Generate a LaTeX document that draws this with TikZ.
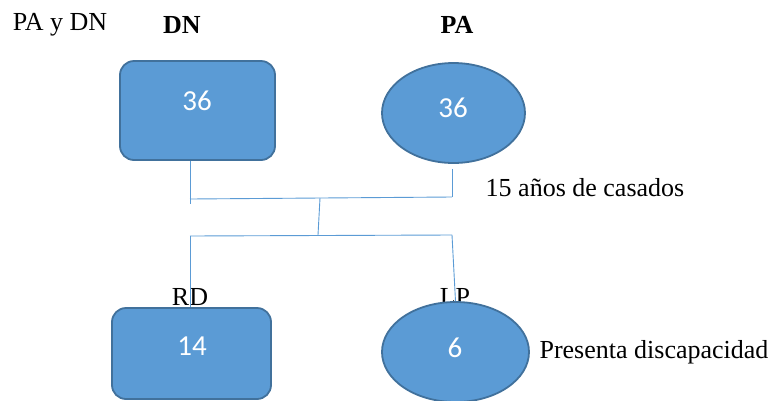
\documentclass[tikz,border=0pt]{standalone}
\usepackage{fontspec}
\setmainfont{Liberation Serif}
\newfontfamily\numfont{Carlito}
\usetikzlibrary{shapes.geometric, calc}
\definecolor{boxblue}{HTML}{5B9BD5}
\definecolor{boxedge}{HTML}{41719C}

\begin{document}
\begin{tikzpicture}[x=1pt, y=-1pt,
    famrect/.style={draw=boxedge, line width=1.8pt, fill=boxblue, rounded corners=14pt, inner sep=0pt},
    famell/.style={ellipse, draw=boxedge, line width=1.8pt, fill=boxblue, inner sep=0pt},
    numtxt/.style={text=white, font=\numfont\fontsize{29}{32}\selectfont, inner sep=0pt},
    lbl/.style={font=\fontsize{26}{30}\selectfont, inner sep=0pt},
    link/.style={draw=boxblue, line width=0.9pt}]
    \useasboundingbox (0,0) rectangle (772,400);

    % Headings
    \node[lbl] (padn) at (60,25) {PA y DN};
    \node[lbl, font=\fontsize{26}{30}\selectfont\bfseries] (dnhead) at (182,25) {DN};
    \node[lbl, font=\fontsize{26}{30}\selectfont\bfseries] (pahead) at (457,25) {PA};

    % Parents
    \node[famrect, minimum width=155pt, minimum height=99pt] (dnbox) at (197.5,110.5) {};
    \node[numtxt] (dnnum) at (197,101) {36};
    \node[famell, minimum width=143pt, minimum height=100pt] (paell) at (453.5,113) {};
    \node[numtxt] (panum) at (453,108) {36};
    \node[lbl] (casados) at (585,188) {15 años de casados};

    % Children
    \node[lbl] (rdlbl) at (190,297) {RD};
    \node[lbl] (lplbl) at (455,297) {LP};
    \node[famrect, minimum width=159pt, minimum height=91pt] (rdbox) at (191.5,353.5) {};
    \node[numtxt] (rdnum) at (192,346) {14};
    \node[famell, minimum width=147pt, minimum height=100pt] (lpell) at (455.5,352) {};
    \node[numtxt] (lpnum) at (455,348) {6};
    \node[lbl] (disc) at (654,352) {Presenta discapacidad};

    % Connectors
    \coordinate (upl) at (190,204);
    \coordinate (upr) at (452,197);
    \coordinate (midtop) at (320,198);
    \coordinate (midbot) at (318,235);
    \coordinate (lowl) at (190,236);
    \coordinate (lowr) at (452,235);
    \draw[link] (dnbox.south -| upl) -- (upl);
    \draw[link] ([yshift=-5pt]paell.south -| upr) -- (upr);
    \draw[link] (190,199) -- (upr);
    \draw[link] (midtop) -- (midbot);
    \draw[link] (lowl) -- (lowr);
    \draw[link] (lowl) -- (rdbox.north -| lowl);
    \draw[link] (lowr) -- (lpell.north);
\end{tikzpicture}
\end{document}
